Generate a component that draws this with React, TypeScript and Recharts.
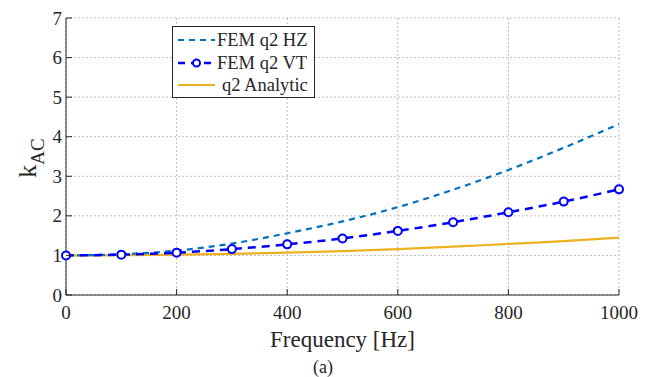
import { LineChart, Line, XAxis, YAxis, CartesianGrid, Label } from "recharts";

const FREQ = [0, 100, 200, 300, 400, 500, 600, 700, 800, 900, 1000];
const FEM_HZ = [1.0, 1.03, 1.12, 1.3, 1.56, 1.86, 2.22, 2.66, 3.16, 3.72, 4.32];
const FEM_VT = [1.0, 1.02, 1.07, 1.16, 1.28, 1.43, 1.62, 1.84, 2.09, 2.36, 2.67];
const ANALYTIC = [1.0, 1.005, 1.02, 1.04, 1.07, 1.11, 1.16, 1.22, 1.29, 1.36, 1.45];
const X_TICKS = [0, 200, 400, 600, 800, 1000];
const Y_TICKS = [0, 1, 2, 3, 4, 5, 6, 7];

const data = FREQ.map((f, i) => ({ f, hz: FEM_HZ[i], vt: FEM_VT[i], an: ANALYTIC[i] }));

const FONT = "'Liberation Serif', 'Times New Roman', serif";
const AXIS = "#262626";

const XTick = (p: any) => (
  <g>
    <line x1={p.x} x2={p.x} y1={p.y} y2={p.y - 6} stroke={AXIS} strokeWidth={1} />
    <text x={p.x} y={p.y + 24} textAnchor="middle" style={{ fontSize: 19, fontFamily: FONT }} fill={AXIS}>
      {p.payload.value}
    </text>
  </g>
);

const YTick = (p: any) => (
  <g>
    <line x1={p.x} x2={p.x + 6} y1={p.y} y2={p.y} stroke={AXIS} strokeWidth={1} />
    <text x={p.x - 4} y={p.y + 6.5} textAnchor="end" style={{ fontSize: 19, fontFamily: FONT }} fill={AXIS}>
      {p.payload.value}
    </text>
  </g>
);

const YLabel = () => (
  <text transform="translate(36,158) rotate(-90)" style={{ fontFamily: FONT }} fill={AXIS} textAnchor="middle">
    <tspan fontSize={26}>k</tspan>
    <tspan fontSize={19} dy={8}>AC</tspan>
  </text>
);

const XLabel = (p: any) => {
  const vb = p.viewBox || {};
  return (
    <g style={{ fontFamily: FONT }} fill={AXIS}>
      <text x={vb.x + vb.width / 2} y={347} textAnchor="middle" fontSize={23}>
        Frequency [Hz]
      </text>
      <text x={323} y={373} textAnchor="middle" fontSize={18}>
        (a)
      </text>
    </g>
  );
};

const LegendBox = () => (
  <div
    style={{
      position: "absolute", left: 172, top: 26, width: 143, height: 72,
      background: "#fff", border: "1px solid #262626", boxSizing: "border-box",
    }}
  >
    <svg width={143} height={72} style={{ position: "absolute", left: -1, top: -1, fontFamily: FONT }}>
      <line x1={6} x2={43} y1={14} y2={14} stroke="#0072BD" strokeWidth={2.2} strokeDasharray="6 5" />
      <line x1={6} x2={43} y1={37} y2={37} stroke="#0000FF" strokeWidth={2.5} strokeDasharray="7 6" />
      <circle cx={24.5} cy={37} r={3.5} fill="#fff" stroke="#0000FF" strokeWidth={2} />
      <line x1={6} x2={43} y1={59} y2={59} stroke="#EDB120" strokeWidth={2.2} />
      <text x={45} y={20} fontSize={18.5} fill={AXIS}>FEM q2 HZ</text>
      <text x={45} y={43} fontSize={18.5} fill={AXIS}>FEM q2 VT</text>
      <text x={50} y={65} fontSize={18.5} fill={AXIS}>q2 Analytic</text>
    </svg>
  </div>
);

export default function App() {
  return (
    <div style={{ position: "absolute", left: 0, top: 0, width: 648, height: 377, background: "#fff", fontFamily: FONT }}>
      <LineChart width={648} height={377} data={data} margin={{ top: 18, right: 29, left: 0, bottom: 0 }} style={{ fontFamily: FONT }}>
        <CartesianGrid stroke="#bdbdbd" strokeDasharray="2 2" strokeWidth={1} />
        <XAxis
          dataKey="f" type="number" domain={[0, 1000]} ticks={X_TICKS}
          stroke={AXIS} tickSize={0} tickMargin={0} tick={XTick} height={82}
        >
          <Label content={XLabel} />
        </XAxis>
        <YAxis
          type="number" domain={[0, 7]} ticks={Y_TICKS} width={66}
          stroke={AXIS} tickSize={0} tickMargin={0} tick={YTick}
        >
          <Label content={YLabel} />
        </YAxis>
        <Line dataKey="an" type="monotone" stroke="#EDB120" strokeWidth={2.2} dot={false} isAnimationActive={false} />
        <Line dataKey="hz" type="monotone" stroke="#0072BD" strokeWidth={2.2} strokeDasharray="6 5" dot={false} isAnimationActive={false} />
        <Line
          dataKey="vt" type="monotone" stroke="#0000FF" strokeWidth={2.5} strokeDasharray="8 6"
          dot={{ r: 4, fill: "#fff", stroke: "#0000FF", strokeWidth: 2, strokeDasharray: "" }}
          isAnimationActive={false}
        />
      </LineChart>
      <LegendBox />
    </div>
  );
}
